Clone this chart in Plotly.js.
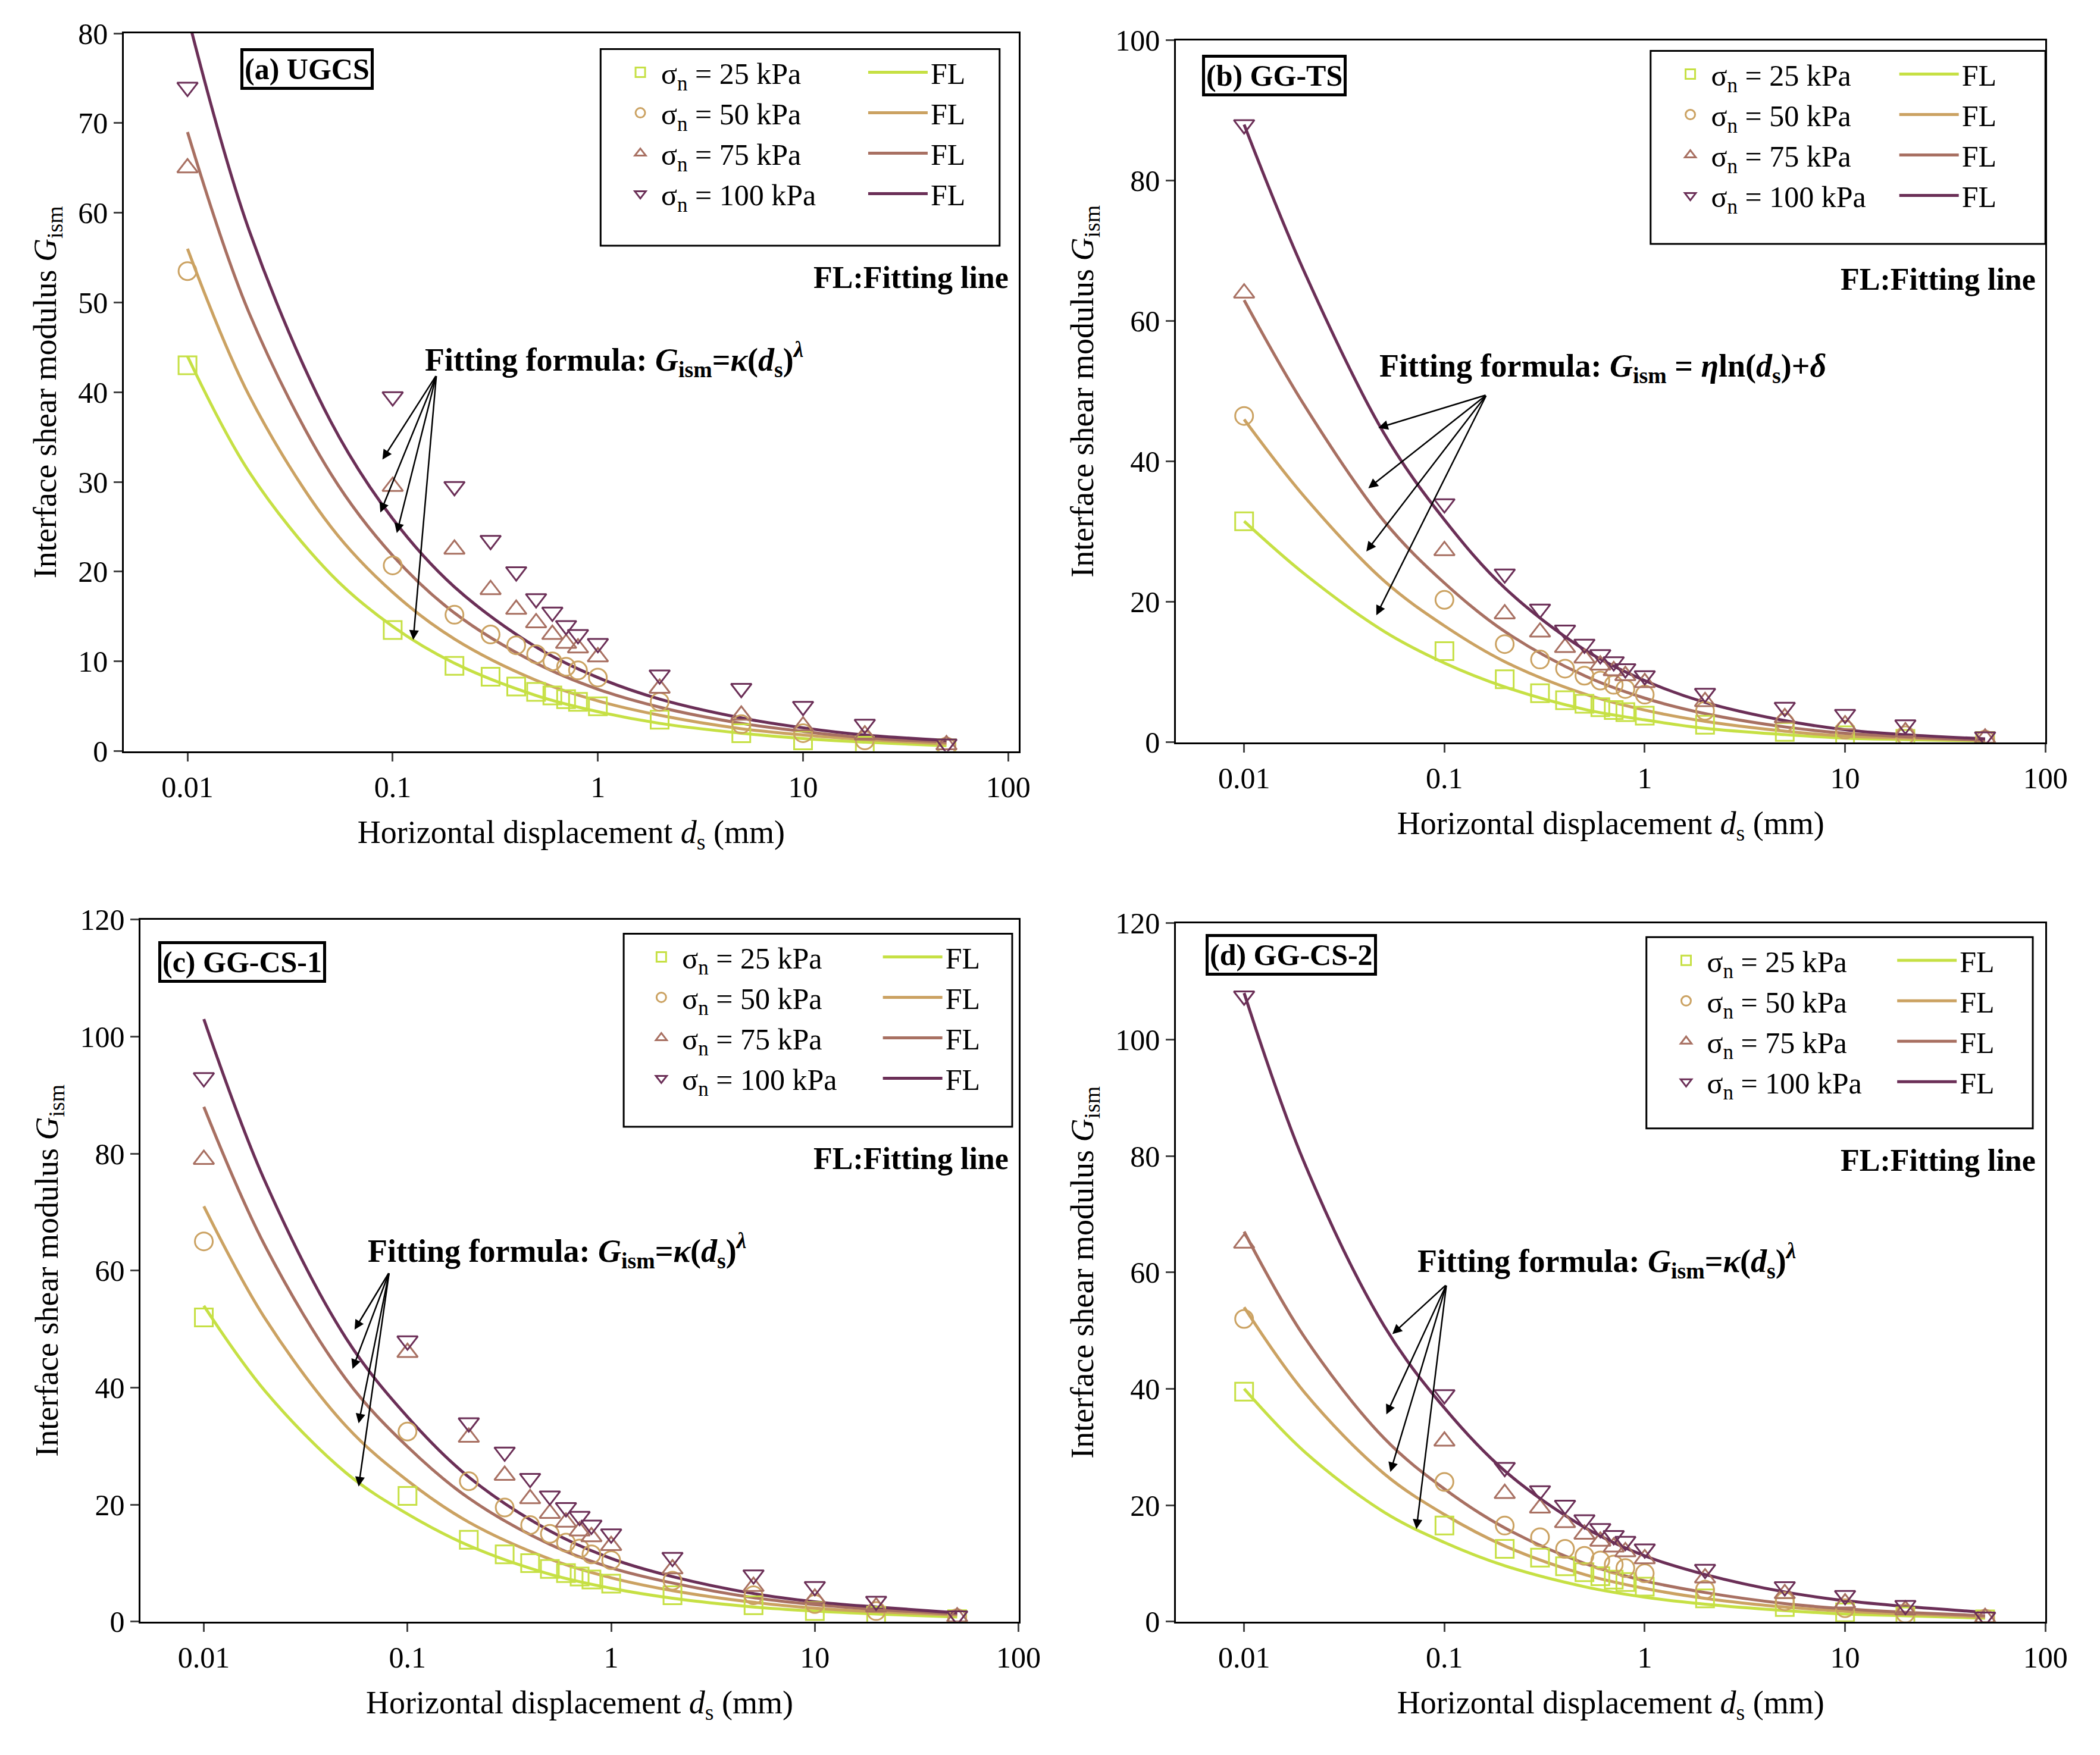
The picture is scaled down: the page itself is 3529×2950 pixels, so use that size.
<!DOCTYPE html>
<html>
<head>
<meta charset="utf-8">
<script src="https://cdn.plot.ly/plotly-3.0.1.min.js"></script>
<style>body{margin:0;background:#fff}#plot{width:3529px;height:2950px}</style>
</head>
<body>
<div id="plot"></div>
<script>
// measured displacements (mm) and fitted-line sample positions
var xMeas = [0.01,0.1,0.2,0.3,0.4,0.5,0.6,0.7,0.8,1,2,5,10,20,50];
var xFit = [0.01,0.02,0.05,0.1,0.2,0.5,1,2,5,10,20,50];
var stressLabels = ['25', '50', '75', '100'];

// (a) UGCS
var a_m25 = [43,13.5,9.5,8.3,7.2,6.6,6.2,5.8,5.5,5,3.5,2,1.2,0.6,0.3];
var a_m50 = [53.5,20.7,15.2,13,11.8,10.8,10,9.4,9,8.2,5.5,3,2,1.2,0.5];
var a_m75 = [65,29.5,22.5,18,15.8,14.3,13,12,11.5,10.5,7,4,2.8,1.8,0.7];
var a_m100 = [74,39.5,29.5,23.5,20,17,15.5,14,13,12,8.5,7,5,3,0.8];
var a_f25 = [44,31.1,19.7,13.9,9.8,6.2,4.4,3.1,2.0,1.4,1.0,0.6];
var a_f50 = [56,39.6,25,17.7,12.5,7.9,5.6,4.0,2.5,1.8,1.3,0.8];
var a_f75 = [69,48.8,30.9,21.8,15.4,9.8,6.9,4.9,3.1,2.2,1.5,1.0];
var a_f100 = [82,58,36.7,25.9,18.3,11.6,8.2,5.8,3.7,2.6,1.8,1.2];

// (b) GG-TS
var b_m25 = [31.5,13,9,7,6,5.5,5,4.6,4.3,3.8,2.5,1.5,1,0.5,0.2];
var b_m50 = [46.5,20.3,14,11.8,10.5,9.5,8.8,8.2,7.6,6.8,4.5,2.8,1.8,1,0.4];
var b_m75 = [64,27.3,18.3,15.7,13.5,12,11,10.2,9.5,8.5,5.8,3.5,2.5,1.5,0.6];
var b_m100 = [88,34,24,19,16,14,12.5,11.5,10.5,9.5,7,5,4,2.5,0.8];
var b_f25 = [31.5,24,15.8,11.3,7.9,4.7,3.2,2,1.1,0.6,0.4,0.2];
var b_f50 = [46,35,23,16.6,11.5,6.9,4.6,3,1.6,0.9,0.6,0.3];
var b_f75 = [63,48,31.5,22.7,15.8,9.5,6.3,4.1,2.2,1.3,0.8,0.3];
var b_f100 = [88,67,44,31.7,22,13.2,8.8,5.7,3.1,1.8,1.1,0.5];

// (c) GG-CS-1
var c_m25 = [52,21.5,14,11.5,10,9,8.3,7.7,7.2,6.5,4.5,2.8,1.8,1,0.4];
var c_m50 = [65,32.5,24,19.5,16.5,15,13.5,12.5,11.5,10.5,7,4.5,3,1.8,0.6];
var c_m75 = [79,46,31.5,25,21,18.5,17,15.5,14.5,13,9,6,4,2.5,0.8];
var c_m100 = [93,48,34,29,24.5,21.5,19.5,18,16.5,15,11,8,6,3.5,1];
var c_f25 = [54,39.4,25.4,18.4,13,8.1,5.7,4,2.5,1.8,1.3,0.8];
var c_f50 = [71,51.8,33.4,24.1,17,10.7,7.5,5.3,3.3,2.3,1.7,1.1];
var c_f75 = [88,64.2,41.4,29.9,21.1,13.2,9.2,6.6,4.1,2.9,2.1,1.3];
var c_f100 = [103,75.2,48.4,35,24.7,15.5,10.8,7.7,4.8,3.4,2.5,1.5];

// (d) GG-CS-2
var d_m25 = [39.5,16.5,12.5,11,9.5,8.5,7.8,7.2,6.8,6,4,2.5,1.6,0.9,0.4];
var d_m50 = [52,24,16.5,14.5,12.5,11.3,10.5,9.8,9.2,8.3,5.5,3.5,2.3,1.4,0.5];
var d_m75 = [65,31,22,19.5,17,15,13.8,12.8,12,10.8,7.5,4.8,3.2,2,0.7];
var d_m100 = [107.5,39,26.5,22.5,20,17.5,16,14.8,13.8,12.5,9,6,4.5,2.8,0.8];
var d_f25 = [40,29.2,18.8,13.6,9.6,6,4.2,3,1.9,1.3,1,0.6];
var d_f50 = [54,39.4,25.4,18.4,13,8.1,5.7,4,2.5,1.8,1.3,0.8];
var d_f75 = [67,48.9,31.5,22.8,16.1,10,7,5,3.1,2.2,1.6,1];
var d_f100 = [108,78.8,50.8,36.7,25.9,16.2,11.3,8.1,5.1,3.6,2.6,1.6];

var colors = ['#c6e044', '#cba262', '#a87062', '#6b2f57'];
var symbols = ['square-open', 'circle-open', 'triangle-up-open', 'triangle-down-open'];
var FONT = 'Liberation Serif, Times New Roman, serif';

var panels = [
  {ax: '', meas: [a_m25,a_m50,a_m75,a_m100], fit: [a_f25,a_f50,a_f75,a_f100], lgM: 'legend', lgF: 'legend2'},
  {ax: '2', meas: [b_m25,b_m50,b_m75,b_m100], fit: [b_f25,b_f50,b_f75,b_f100], lgM: 'legend3', lgF: 'legend4'},
  {ax: '3', meas: [c_m25,c_m50,c_m75,c_m100], fit: [c_f25,c_f50,c_f75,c_f100], lgM: 'legend5', lgF: 'legend6'},
  {ax: '4', meas: [d_m25,d_m50,d_m75,d_m100], fit: [d_f25,d_f50,d_f75,d_f100], lgM: 'legend7', lgF: 'legend8'}
];

var data = [];
panels.forEach(function (p) {
  for (var k = 0; k < 4; k++) {
    data.push({
      x: xFit, y: p.fit[k], xaxis: 'x' + p.ax, yaxis: 'y' + p.ax,
      mode: 'lines', type: 'scatter', line: {color: colors[k], width: 5, shape: 'spline'},
      name: 'FL', legend: p.lgF
    });
  }
  for (var k = 0; k < 4; k++) {
    data.push({
      x: xMeas, y: p.meas[k], xaxis: 'x' + p.ax, yaxis: 'y' + p.ax,
      mode: 'markers', type: 'scatter',
      marker: {symbol: symbols[k], size: 30, color: colors[k], line: {width: 3, color: colors[k]}},
      name: '\u03c3<sub>n</sub> = ' + stressLabels[k] + ' kPa', legend: p.lgM
    });
  }
});

function xax(dom, anchor, rng) {
  return {
    domain: dom, anchor: anchor, type: 'log', range: rng,
    tickvals: [0.01, 0.1, 1, 10, 100], ticktext: ['0.01', '0.1', '1', '10', '100'],
    ticks: 'outside', ticklen: 14, tickwidth: 3, showline: true, mirror: true,
    linewidth: 3, linecolor: '#000', showgrid: false, zeroline: false,
    tickfont: {size: 50}, title: {text: 'Horizontal displacement <i>d</i><sub>s</sub> (mm)', font: {size: 54}, standoff: 30}
  };
}
function yax(dom, anchor, rng, dt) {
  return {
    domain: dom, anchor: anchor, range: rng, dtick: dt,
    ticks: 'outside', ticklen: 14, tickwidth: 3, showline: true, mirror: true,
    linewidth: 3, linecolor: '#000', showgrid: false, zeroline: false,
    tickfont: {size: 50}, title: {text: 'Interface shear modulus <i>G</i><sub>ism</sub>', font: {size: 54}, standoff: 20}
  };
}
function lg(x, y, w) {
  return {x: x, y: y, xanchor: 'left', yanchor: 'top', bgcolor: 'rgba(0,0,0,0)',
    font: {size: 50, family: FONT}, tracegroupgap: 0, itemwidth: w};
}
function rect(x0, x1, y0, y1) {
  return {type: 'rect', xref: 'paper', yref: 'paper', x0: x0, x1: x1, y0: y0, y1: y1, line: {color: '#000', width: 3}};
}

var annotations = [];
function label(ax, text, x, y) {
  annotations.push({xref: 'x' + ax + ' domain', yref: 'y' + ax + ' domain', x: x, y: y, xanchor: 'left', yanchor: 'middle',
    text: '<b>' + text + '</b>', showarrow: false, font: {size: 50}, bordercolor: '#000', borderwidth: 5, borderpad: 2});
  annotations.push({xref: 'x' + ax + ' domain', yref: 'y' + ax + ' domain', x: 0.99, y: 0.66, xanchor: 'right', yanchor: 'middle',
    text: '<b>FL:Fitting line</b>', showarrow: false, font: {size: 52}});
}
function formula(ax, text, tx, ty, tail, heads) {
  annotations.push({xref: 'x' + ax, yref: 'y' + ax, x: tx, y: ty, xanchor: 'left', yanchor: 'middle',
    text: text, showarrow: false, font: {size: 54}});
  heads.forEach(function (h) {
    annotations.push({xref: 'x' + ax, yref: 'y' + ax, axref: 'x' + ax, ayref: 'y' + ax,
      x: h[0], y: h[1], ax: tail[0], ay: tail[1], text: '', showarrow: true,
      arrowhead: 2, arrowsize: 1.3, arrowwidth: 2.5, arrowcolor: '#000'});
  });
}
var powerText = '<b>Fitting formula: <i>G</i><sub>ism</sub>=<i>\u03ba</i>(<i>d</i><sub>s</sub>)<sup><i>\u03bb</i></sup></b>';
var lnText = '<b>Fitting formula: <i>G</i><sub>ism</sub> = <i>\u03b7</i>ln(<i>d</i><sub>s</sub>)+<i>\u03b4</i></b>';

label('', '(a) UGCS', 0.13, 0.95);
label('2', '(b) GG-TS', 0.03, 0.95);
label('3', '(c) GG-CS-1', 0.02, 0.94);
label('4', '(d) GG-CS-2', 0.034, 0.955);
formula('', powerText, -0.85, 43.7, [-0.787, 41.9], [[-1.05, 32.5], [-1.06, 26.6], [-0.98, 24.3], [-0.90, 12.4]]);
formula('2', lnText, -1.33, 53.3, [-0.79, 49.5], [[-1.33, 44.8], [-1.38, 36.2], [-1.39, 27.2], [-1.34, 18.1]]);
formula('3', powerText, -1.2, 63.4, [-1.09, 59.7], [[-1.26, 49.9], [-1.27, 43.2], [-1.24, 33.9], [-1.24, 23.1]]);
formula('4', powerText, -1.14, 62, [-0.99, 57.9], [[-1.26, 49.4], [-1.29, 35.6], [-1.27, 25.7], [-1.14, 15.9]]);

var layout = {
  width: 3529, height: 2950, showlegend: true,
  paper_bgcolor: '#fff', plot_bgcolor: '#fff',
  font: {family: FONT, color: '#000', size: 50},
  margin: {l: 0, r: 0, t: 0, b: 0},
  xaxis: xax([0.059, 0.485], 'y', [-2.31, 2.05]),
  yaxis: yax([0.572, 0.981], 'x', [0, 80], 10),
  xaxis2: xax([0.56, 0.974], 'y2', [-2.34, 2.0]),
  yaxis2: yax([0.577, 0.977], 'x2', [0, 100], 20),
  xaxis3: xax([0.067, 0.485], 'y3', [-2.31, 2.0]),
  yaxis3: yax([0.076, 0.476], 'x3', [0, 120], 20),
  xaxis4: xax([0.56, 0.974], 'y4', [-2.34, 2.0]),
  yaxis4: yax([0.076, 0.474], 'x4', [0, 120], 20),
  legend: lg(0.295, 0.972, 60), legend2: lg(0.412, 0.972, 100),
  legend3: lg(0.795, 0.971, 60), legend4: lg(0.903, 0.971, 100),
  legend5: lg(0.305, 0.468, 60), legend6: lg(0.419, 0.468, 100),
  legend7: lg(0.793, 0.466, 60), legend8: lg(0.902, 0.466, 100),
  shapes: [rect(0.286, 0.476, 0.860, 0.972), rect(0.786, 0.974, 0.861, 0.971),
           rect(0.297, 0.482, 0.358, 0.468), rect(0.784, 0.968, 0.357, 0.466)],
  annotations: annotations
};

Plotly.newPlot('plot', data, layout, {displayModeBar: false});
</script>
</body>
</html>
